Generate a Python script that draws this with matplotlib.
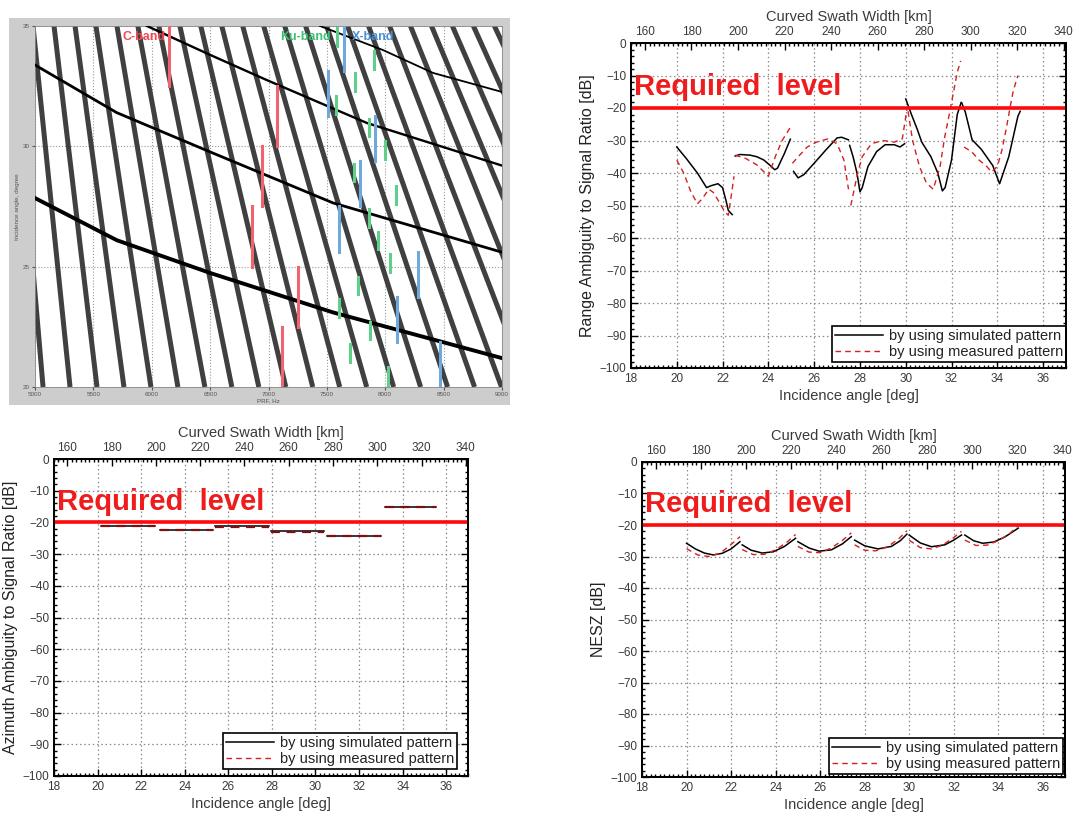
import matplotlib
matplotlib.use('Agg')
import matplotlib.pyplot as plt
from matplotlib.lines import Line2D
from matplotlib.ticker import MultipleLocator

# ---------------- data: top-left PRF diagram ----------------
prf_ticks = [5000, 5500, 6000, 6500, 7000, 7500, 8000, 8500, 9000]
inc_ticks = [20, 25, 30, 35]
band_prf_at_20 = [5069, 5300, 5531, 5762, 5993, 6224, 6455, 6686, 6917, 7148, 7379, 7610,
                  7841, 8072, 8303, 8534, 8765, 8996, 9227, 9458, 9689, 9920, 10151, 10382, 10613]
band_prf_at_35 = [4804, 4983, 5163, 5343, 5522, 5702, 5881, 6061, 6241, 6420, 6600, 6779,
                  6959, 7139, 7318, 7498, 7677, 7857, 8037, 8216, 8396, 8575, 8755, 8935, 9114]
curve1_prf = [7441, 7981, 8409, 9000]
curve1_inc = [35.0, 34.0, 33.05, 32.26]
curve2_prf = [5959, 6500, 6987, 7843, 9000]
curve2_inc = [35.0, 33.8, 32.75, 30.97, 29.2]
curve3_prf = [5000, 5700, 6499, 7552, 9000]
curve3_inc = [33.38, 31.4, 29.77, 27.65, 25.6]
curve4_prf = [5000, 5700, 6499, 7552, 9000]
curve4_inc = [27.85, 26.1, 24.74, 23.1, 21.2]
cband_prf = [6150, 7075, 6945, 6855, 7250, 7115]
cband_inc_lo = [32.5, 30.0, 27.5, 25.0, 22.5, 20.0]
cband_inc_hi = [35.0, 32.5, 30.0, 27.5, 25.0, 22.5]
xband_prf = [7643, 7506, 7914, 7780, 7608, 8277, 8100, 8466]
xband_inc_lo = [33.125, 31.25, 29.375, 27.5, 25.625, 23.75, 21.875, 20.0]
xband_inc_hi = [35.0, 33.125, 31.25, 29.375, 27.5, 25.625, 23.75, 21.875]
kuband_prf = [7590, 7900, 7740, 7580, 7860, 8000, 7730, 8090, 7860, 7940, 8040, 7770,
              7600, 7870, 7700, 8020]
kuband_inc_lo = [34.06, 33.13, 32.19, 31.25, 30.31, 29.38, 28.44, 27.5, 26.56, 25.63,
                 24.69, 23.75, 22.81, 21.88, 20.94, 20.0]
kuband_inc_hi = [35.0, 34.06, 33.13, 32.19, 31.25, 30.31, 29.38, 28.44, 27.5, 26.56,
                 25.63, 24.69, 23.75, 22.81, 21.88, 20.94]

# ---------------- data: range ambiguity (top right) ----------------
rasr_sim_x = [[20.0, 20.4, 20.9, 21.3, 21.5, 21.8, 22.0, 22.15, 22.25, 22.42],
              [22.55, 22.75, 23.2, 23.5, 23.8, 24.05, 24.28, 24.4, 24.7, 24.96],
              [25.1, 25.3, 25.55, 26.0, 26.5, 27.0, 27.2, 27.5],
              [27.55, 27.7, 27.87, 28.0, 28.1, 28.35, 28.73, 29.1, 29.5, 29.75, 29.95],
              [30.0, 30.25, 30.5, 30.7, 31.1, 31.4, 31.6, 31.72, 32.0, 32.25, 32.42],
              [32.45, 32.6, 32.9, 33.3, 33.8, 34.1, 34.5, 34.9, 35.0]]
rasr_sim_y = [[-32.0, -35.4, -40.0, -44.5, -43.9, -43.3, -44.5, -48.5, -51.5, -52.8],
              [-34.8, -34.3, -34.5, -35.0, -36.0, -37.5, -39.0, -38.5, -34.0, -29.6],
              [-39.5, -41.5, -40.5, -37.0, -33.0, -29.2, -29.0, -29.8],
              [-31.5, -35.0, -40.0, -45.8, -44.5, -38.0, -33.4, -31.3, -31.3, -32.0, -31.0],
              [-17.2, -22.0, -26.5, -30.5, -35.0, -40.0, -45.5, -44.5, -36.0, -22.0, -18.3],
              [-18.5, -21.2, -29.8, -32.7, -37.7, -43.3, -35.0, -22.5, -21.0]]
rasr_meas_x = [[20.0, 20.3, 20.6, 20.9, 21.1, 21.4, 21.6, 21.9, 22.1, 22.25, 22.4, 22.5],
               [22.55, 23.0, 23.5, 24.0, 24.3, 24.6, 25.0],
               [25.05, 25.3, 25.7, 26.1, 26.6, 27.0, 27.3, 27.5],
               [27.6, 27.9, 28.1, 28.5, 29.0, 29.5, 29.85, 30.05],
               [30.1, 30.3, 30.6, 30.9, 31.2, 31.5, 31.7, 31.9, 32.1, 32.25, 32.4],
               [32.55, 32.9, 33.2, 33.5, 33.75, 34.0, 34.2, 34.4, 34.56, 34.7, 34.9]]
rasr_meas_y = [[-36.0, -40.0, -45.5, -49.5, -48.0, -45.0, -46.0, -49.5, -52.0, -53.0, -46.0, -41.0],
               [-34.5, -35.5, -37.5, -41.0, -35.0, -30.0, -25.5],
               [-37.0, -35.0, -32.0, -30.5, -29.5, -31.0, -36.0, -45.0],
               [-50.0, -40.0, -35.0, -31.0, -30.0, -30.5, -29.5, -20.5],
               [-21.0, -30.0, -38.0, -43.0, -45.0, -38.0, -29.0, -22.0, -14.6, -9.0, -5.5],
               [-32.0, -33.6, -36.0, -37.7, -39.7, -38.0, -33.0, -26.0, -19.7, -14.6, -10.0]]

# ---------------- data: azimuth ambiguity (bottom left) ----------------
aasr_x_start = [20.15, 22.85, 25.4, 27.95, 30.55, 33.2]
aasr_x_end = [22.65, 25.3, 27.85, 30.4, 33.0, 35.55]
aasr_sim = [-21.0, -22.3, -21.2, -22.6, -24.2, -15.0]
aasr_meas = [-21.0, -22.3, -21.5, -22.9, -24.2, -15.0]

# ---------------- data: NESZ (bottom right) ----------------
nesz_sim_x = [[20.0, 20.4, 20.8, 21.2, 21.6, 22.0, 22.4],
              [22.5, 22.9, 23.4, 23.9, 24.4, 24.9],
              [25.0, 25.5, 25.95, 26.5, 27.0, 27.4],
              [27.55, 28.0, 28.6, 29.2, 29.6, 29.9],
              [30.0, 30.5, 31.0, 31.6, 32.0, 32.35],
              [32.5, 32.9, 33.3, 33.8, 34.3, 34.9]]
nesz_sim_y = [[-25.8, -27.6, -28.9, -29.5, -29.0, -27.6, -25.3],
              [-26.3, -28.0, -28.9, -28.5, -26.8, -24.2],
              [-25.3, -27.3, -28.3, -27.9, -26.0, -23.7],
              [-24.8, -26.6, -27.6, -26.8, -25.0, -22.9],
              [-23.2, -25.7, -26.9, -26.3, -24.8, -23.2],
              [-23.2, -25.0, -25.8, -25.4, -23.8, -21.0]]
nesz_meas_x = [[20.0, 20.5, 21.0, 21.5, 22.0, 22.4],
               [22.5, 23.0, 23.5, 24.0, 24.5, 24.9],
               [25.0, 25.5, 26.0, 26.5, 27.0, 27.4],
               [27.55, 28.0, 28.5, 29.0, 29.5, 29.9],
               [30.0, 30.5, 31.0, 31.5, 32.0, 32.35],
               [32.5, 33.0, 33.5, 34.0, 34.5, 34.9]]
nesz_meas_y = [[-27.5, -29.5, -30.0, -29.0, -26.2, -23.7],
               [-27.8, -29.4, -29.3, -27.9, -25.5, -23.0],
               [-26.8, -28.6, -28.8, -27.3, -24.9, -22.5],
               [-26.3, -28.0, -28.2, -27.0, -24.6, -21.8],
               [-24.8, -27.2, -27.6, -26.4, -24.0, -22.0],
               [-24.8, -26.5, -26.4, -25.0, -22.8, -20.2]]

required_level = -20
inc_lim = (18, 37)
swath_lim = (154, 341)
db_lim = (-100, 0)

# ---------------- figure ----------------
W, H = 1081, 825
fig = plt.figure(figsize=(W / 100, H / 100), dpi=100)
FONT = ['Liberation Sans', 'DejaVu Sans']
plt.rcParams['font.family'] = FONT
TICKC = '#3a3a3a'


def px_axes(x0, y0, x1, y1, **kw):
    return fig.add_axes([x0 / W, 1 - y1 / H, (x1 - x0) / W, (y1 - y0) / H], **kw)


# ---- top-left PRF diagram ----
bg = px_axes(9, 18, 510, 405)
bg.set_facecolor('#cdcdcd')
bg.set_xticks([]); bg.set_yticks([])
for s in bg.spines.values():
    s.set_visible(False)

axp = px_axes(35, 26, 502, 387)
axp.set_facecolor('white')
axp.set_xlim(5000, 9000)
axp.set_ylim(20, 35)
axp.set_xticks(prf_ticks)
axp.set_yticks(inc_ticks)
axp.tick_params(labelsize=4.5, colors='#555555', length=2, pad=1.5)
axp.grid(True, linestyle=':', color='#9a9a9a', linewidth=0.8)
axp.set_xlabel('PRF, Hz', fontsize=4.5, color='#555555', labelpad=1)
axp.set_ylabel('Incidence angle, degree', fontsize=4.5, color='#555555', labelpad=2)
for s in axp.spines.values():
    s.set_color('#888888'); s.set_linewidth(0.6)
for b20, b35 in zip(band_prf_at_20, band_prf_at_35):
    axp.plot([b20, b35], [20, 35], color='#404040', lw=3.6, solid_capstyle='butt', zorder=2)
axp.plot(curve1_prf, curve1_inc, color='black', lw=1.3, zorder=3)
axp.plot(curve2_prf, curve2_inc, color='black', lw=1.7, zorder=3)
axp.plot(curve3_prf, curve3_inc, color='black', lw=2.0, zorder=3)
axp.plot(curve4_prf, curve4_inc, color='black', lw=2.8, zorder=3)
for x, lo, hi in zip(cband_prf, cband_inc_lo, cband_inc_hi):
    axp.plot([x, x], [lo, hi], color='#f0646e', lw=2.2, zorder=4)
for x, lo, hi in zip(kuband_prf, kuband_inc_lo, kuband_inc_hi):
    axp.plot([x, x], [lo + 0.1, hi - 0.1], color='#5fcf8a', lw=2.2, zorder=4)
for x, lo, hi in zip(xband_prf, xband_inc_lo, xband_inc_hi):
    axp.plot([x, x], [lo, hi], color='#6fa8dc', lw=2.2, zorder=4)
axp.text(5930, 34.55, 'C-band', color='#f04a55', fontsize=9, fontweight='bold', ha='center', va='center', zorder=5)
axp.text(7315, 34.55, 'Ku-band', color='#3cc173', fontsize=9, fontweight='bold', ha='center', va='center', zorder=5)
axp.text(7894, 34.55, 'X-band', color='#4a90d9', fontsize=9, fontweight='bold', ha='center', va='center', zorder=5)


def style_panel(ax, ylabel, ylabel_size=11.5):
    ax.set_xlim(*inc_lim)
    ax.set_ylim(*db_lim)
    ax.xaxis.set_major_locator(MultipleLocator(2))
    ax.xaxis.set_minor_locator(MultipleLocator(0.2))
    ax.yaxis.set_major_locator(MultipleLocator(10))
    ax.yaxis.set_minor_locator(MultipleLocator(2))
    ax.tick_params(which='both', direction='in', right=True, top=False,
                   colors='black', labelcolor=TICKC, labelsize=8.5, width=1)
    ax.tick_params(which='major', length=5)
    ax.tick_params(which='minor', length=2.5)
    ax.grid(True, which='major', linestyle=(0, (1.2, 2.2)), color='#8a8a8a', linewidth=0.9)
    for s in ax.spines.values():
        s.set_linewidth(1.4)
    ax.set_xlabel('Incidence angle [deg]', fontsize=10.5, color=TICKC, labelpad=3)
    ax.set_ylabel(ylabel, fontsize=ylabel_size, color='#222222', labelpad=3)
    ax.axhline(required_level, color='#ff0a0a', lw=2.6, zorder=4)
    ax2 = ax.twiny()
    ax2.set_xlim(*swath_lim)
    ax2.xaxis.set_major_locator(MultipleLocator(20))
    ax2.xaxis.set_minor_locator(MultipleLocator(2))
    ax2.tick_params(which='both', direction='in', colors='black', labelcolor=TICKC,
                    labelsize=8.5, width=1)
    ax2.tick_params(which='major', length=5)
    ax2.tick_params(which='minor', length=2.5)
    ax2.set_xlabel('Curved Swath Width [km]', fontsize=10.5, color=TICKC, labelpad=4)
    for s in ax2.spines.values():
        s.set_linewidth(1.4)
    ax.text(18.12, -16.0, 'Required  level', color='#ee1c1c', fontsize=21,
            fontweight='bold', ha='left', va='baseline', zorder=5)
    return ax2


def add_legend(ax, anchor):
    handles = [Line2D([], [], color='black', lw=1.1),
               Line2D([], [], color='#d62020', lw=1.0, linestyle=(0, (4, 3)))]
    leg = ax.legend(handles, ['by using simulated pattern', 'by using measured pattern'],
                    loc='lower right', bbox_to_anchor=anchor, borderaxespad=0,
                    fontsize=10.5, frameon=True, fancybox=False, framealpha=1,
                    edgecolor='black', handlelength=3.3, handletextpad=0.4,
                    labelspacing=0.15, borderpad=0.2)
    leg.get_frame().set_linewidth(1.2)
    for t in leg.get_texts():
        t.set_color('#222222')
    leg.set_zorder(10)


# ---- top-right: range ambiguity ----
ax1 = px_axes(631, 43, 1066, 368)
style_panel(ax1, 'Range Ambiguity to Signal Ratio [dB]')
for xs, ys in zip(rasr_sim_x, rasr_sim_y):
    ax1.plot(xs, ys, color='black', lw=1.1, zorder=3)
for xs, ys in zip(rasr_meas_x, rasr_meas_y):
    ax1.plot(xs, ys, color='#d62020', lw=1.0, linestyle=(0, (4, 3)), zorder=3)
add_legend(ax1, (1.0, 0.018))

# ---- bottom-left: azimuth ambiguity ----
ax3 = px_axes(54, 459, 468, 776)
style_panel(ax3, 'Azimuth Ambiguity to Signal Ratio [dB]')
for x0, x1, ys, ym in zip(aasr_x_start, aasr_x_end, aasr_sim, aasr_meas):
    ax3.plot([x0, x1], [ys, ys], color='black', lw=1.1, zorder=3)
    ax3.plot([x0, x1], [ym, ym], color='#7a1010', lw=1.6, linestyle=(0, (4, 3)), zorder=3)
add_legend(ax3, (0.973, 0.022))

# ---- bottom-right: NESZ ----
ax4 = px_axes(642, 462, 1065, 777)
style_panel(ax4, 'NESZ [dB]')
for xs, ys in zip(nesz_sim_x, nesz_sim_y):
    ax4.plot(xs, ys, color='black', lw=1.1, zorder=3)
for xs, ys in zip(nesz_meas_x, nesz_meas_y):
    ax4.plot(xs, ys, color='#d62020', lw=1.0, linestyle=(0, (4, 3)), zorder=3)
add_legend(ax4, (0.995, 0.01))

fig.savefig('out.png', dpi=100)
